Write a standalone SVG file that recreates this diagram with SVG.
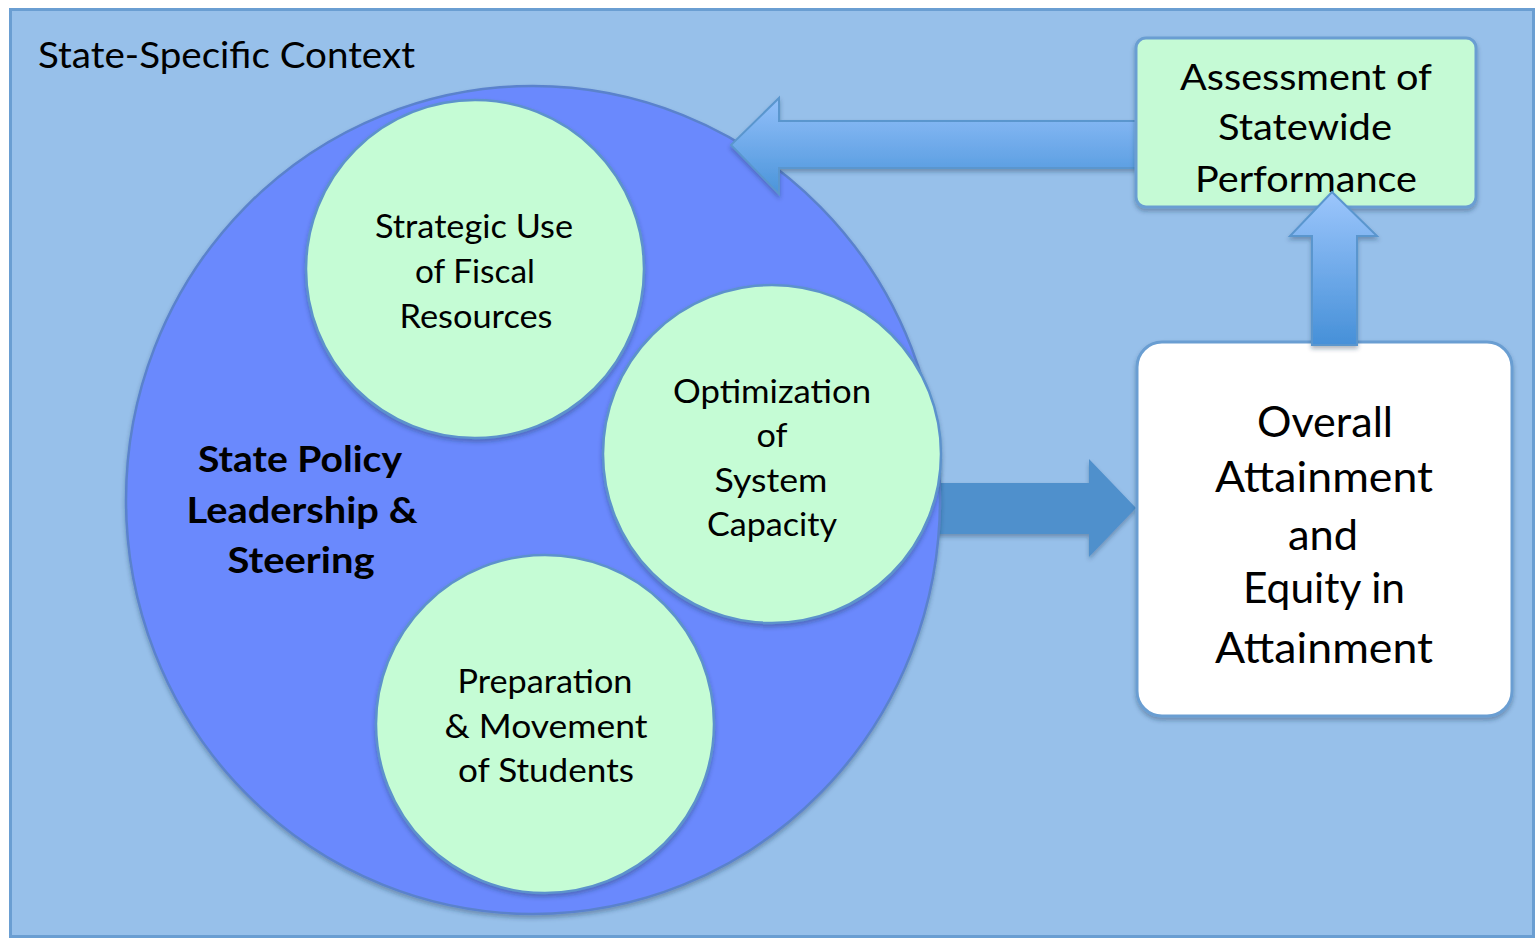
<svg xmlns="http://www.w3.org/2000/svg" width="1538" height="941" viewBox="0 0 1538 941">
<style>
.t{font-family:Lato,"Open Sans","Liberation Sans",sans-serif;fill:#000;text-anchor:middle}
.c{font-size:32px}
.green{fill:#C5FCD5;stroke:#5C92CC;stroke-width:2.5}
</style>
<defs>
<filter id="sh" x="-10%" y="-10%" width="120%" height="125%">
<feDropShadow dx="0" dy="3" stdDeviation="2" flood-color="#203050" flood-opacity="0.35"/>
</filter>
<linearGradient id="gl" x1="0" y1="0" x2="0" y2="1">
<stop offset="0" stop-color="#93C0FA"/><stop offset="1" stop-color="#4A94DA"/>
</linearGradient>
<linearGradient id="gu" x1="0" y1="0" x2="0" y2="1">
<stop offset="0" stop-color="#9CC6FC"/><stop offset="1" stop-color="#4690D8"/>
</linearGradient>
</defs>
<rect x="0" y="0" width="1538" height="941" fill="#FFFFFF"/>
<g id="context">
<rect x="10.5" y="9.5" width="1523" height="927" fill="#97C0EA" stroke="#6A9ED2" stroke-width="3"/>
<text class="t" x="38" y="68" font-size="36" style="text-anchor:start" textLength="377" lengthAdjust="spacingAndGlyphs">State-Specific Context</text>
</g>
<g id="connectors">
<path d="M930,483 L1089,483 L1089,459 L1136,508 L1089,557 L1089,534 L930,534 Z" fill="#5090CC" filter="url(#sh)"/>
</g>
<g id="policy">
<ellipse cx="533" cy="500" rx="407" ry="414" fill="#6A89FD" stroke="#5A82CC" stroke-width="2.5" filter="url(#sh)"/>
<text class="t" font-size="36" font-weight="bold" x="300" y="472" textLength="204" lengthAdjust="spacingAndGlyphs">State Policy</text>
<text class="t" font-size="36" font-weight="bold" x="302" y="523" textLength="231" lengthAdjust="spacingAndGlyphs">Leadership &amp;</text>
<text class="t" font-size="36" font-weight="bold" x="301" y="573" textLength="147" lengthAdjust="spacingAndGlyphs">Steering</text>
</g>
<g id="fiscal">
<circle class="green" cx="475" cy="269" r="169" filter="url(#sh)"/>
<text class="t c" x="474" y="238" textLength="198" lengthAdjust="spacingAndGlyphs">Strategic Use</text>
<text class="t c" x="475" y="283" textLength="120" lengthAdjust="spacingAndGlyphs">of Fiscal</text>
<text class="t c" x="476" y="328" textLength="153" lengthAdjust="spacingAndGlyphs">Resources</text>
</g>
<g id="capacity">
<circle class="green" cx="772" cy="454" r="169" filter="url(#sh)"/>
<text class="t c" x="772" y="403" textLength="198" lengthAdjust="spacingAndGlyphs">Optimization</text>
<text class="t c" x="772" y="447" textLength="31" lengthAdjust="spacingAndGlyphs">of</text>
<text class="t c" x="771" y="492" textLength="113" lengthAdjust="spacingAndGlyphs">System</text>
<text class="t c" x="772" y="536" textLength="130" lengthAdjust="spacingAndGlyphs">Capacity</text>
</g>
<g id="students">
<circle class="green" cx="545" cy="724" r="169" filter="url(#sh)"/>
<text class="t c" x="545" y="693" textLength="175" lengthAdjust="spacingAndGlyphs">Preparation</text>
<text class="t c" x="546" y="738" textLength="203" lengthAdjust="spacingAndGlyphs">&amp; Movement</text>
<text class="t c" x="546" y="782" textLength="176" lengthAdjust="spacingAndGlyphs">of Students</text>
</g>
<g id="connectors-feedback">
<path d="M1137,121 L779,121 L779,98 L731,145 L779,194 L779,168 L1137,168 Z" fill="url(#gl)" stroke="#5A96CE" stroke-width="2" filter="url(#sh)"/>
</g>
<g id="assessment">
<rect x="1136" y="38" width="340" height="169" rx="10" fill="#C5FAD5" stroke="#6A9ED2" stroke-width="3" filter="url(#sh)"/>
<text class="t" font-size="36" x="1306" y="90" textLength="252" lengthAdjust="spacingAndGlyphs">Assessment of</text>
<text class="t" font-size="36" x="1305" y="140" textLength="174" lengthAdjust="spacingAndGlyphs">Statewide</text>
<text class="t" font-size="36" x="1306" y="192" textLength="222" lengthAdjust="spacingAndGlyphs">Performance</text>
</g>
<g id="attainment">
<rect x="1137" y="342" width="375" height="374" rx="25" fill="#FFFFFF" stroke="#6A9ED2" stroke-width="3" filter="url(#sh)"/>
<text class="t" font-size="42" x="1325" y="437" textLength="136" lengthAdjust="spacingAndGlyphs">Overall</text>
<text class="t" font-size="42" x="1324" y="492" textLength="218" lengthAdjust="spacingAndGlyphs">Attainment</text>
<text class="t" font-size="42" x="1323" y="550" textLength="70" lengthAdjust="spacingAndGlyphs">and</text>
<text class="t" font-size="42" x="1324" y="603" textLength="162" lengthAdjust="spacingAndGlyphs">Equity in</text>
<text class="t" font-size="42" x="1324" y="663" textLength="218" lengthAdjust="spacingAndGlyphs">Attainment</text>
</g>
<g id="connectors-up">
<path d="M1312,345 L1312,236 L1290,236 L1332,192 L1377,236 L1357,236 L1357,345 Z" fill="url(#gu)" stroke="#5A96CE" stroke-width="2" filter="url(#sh)"/>
</g>
</svg>
